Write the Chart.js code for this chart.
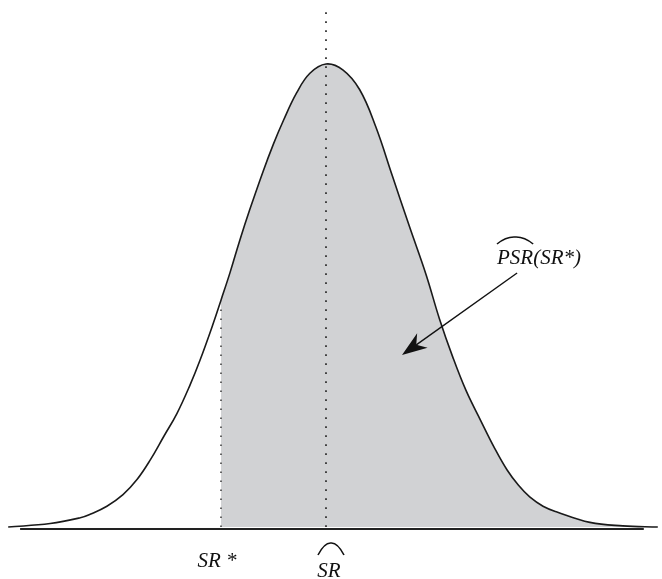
<!DOCTYPE html>
<html>
<head>
<meta charset="utf-8">
<script src="https://cdn.jsdelivr.net/npm/chart.js@4"></script>
<style>
  html, body { margin: 0; padding: 0; background: #fff; }
  #wrap { width: 662px; height: 579px; position: relative; }
</style>
</head>
<body>
<div id="wrap"><canvas id="psrChart"></canvas></div>
<script>
// density curve (x in sd-like units, SR-hat at 0)
const curveX = [-4.54, -3.94, -3.51, -3.37, -3.13, -2.90, -2.70, -2.51, -2.32, -2.13,
                -1.94, -1.80, -1.61, -1.50, -1.37, -1.23, -1.09, -0.90, -0.75, -0.61,
                -0.42, -0.23, 0.00, 0.24, 0.48, 0.71, 0.95, 1.19, 1.43, 1.62,
                1.81, 2.00, 2.21, 2.41, 2.59, 2.75, 2.91, 3.10, 3.30, 3.77,
                4.24, 4.74];
const curveY = [0.000, 0.003, 0.008, 0.011, 0.018, 0.028, 0.041, 0.058, 0.078, 0.098,
                0.123, 0.144, 0.176, 0.196, 0.220, 0.248, 0.274, 0.307, 0.331, 0.351,
                0.375, 0.392, 0.400, 0.395, 0.378, 0.346, 0.303, 0.260, 0.218, 0.180,
                0.147, 0.118, 0.092, 0.068, 0.049, 0.036, 0.026, 0.018, 0.013, 0.004,
                0.001, 0.000];

const srHat = 0.00;
const srStar = -1.50;
const labels = ["SR *", "SR", "PSR", "(SR*)"];

const pts = curveX.map((x, i) => ({ x: x, y: curveY[i] }));
const shaded = pts.filter(p => p.x >= srStar);
const starTop = 0.189;
const hatTop = 0.448;

const serif = "'Liberation Serif', 'Times New Roman', Tinos, 'DejaVu Serif', serif";

const annotate = {
    id: "annotate",
    afterDatasetsDraw(chart) {
        const c = chart.ctx;
        const xs = chart.scales.x;
        const ys = chart.scales.y;

        c.save();
        c.fillStyle = "#111";
        c.strokeStyle = "#111";
        c.font = "italic 21px " + serif;
        c.textBaseline = "alphabetic";

        // SR* label under the axis
        const px0 = xs.getPixelForValue(srStar);
        c.textAlign = "center";
        c.fillText(labels[0], px0 - 4, 567);

        // SR-hat label
        const px1 = xs.getPixelForValue(srHat);
        c.fillText(labels[1], px1 + 3, 577);
        drawHat(c, px1 - 8, px1 + 18, 555, 543);

        // PSR-hat(SR*) label
        c.textAlign = "left";
        c.fillText(labels[2], 497, 264);
        const w = c.measureText(labels[2]).width;
        c.fillText(labels[3], 497 + w, 264);
        drawHat(c, 497, 497 + w, 244, 237);

        // arrow
        const ax0 = xs.getPixelForValue(2.73), ay0 = ys.getPixelForValue(0.2195);
        const ax1 = xs.getPixelForValue(1.086), ay1 = ys.getPixelForValue(0.1486);
        const ang = Math.atan2(ay1 - ay0, ax1 - ax0);
        const headLen = 25, headW = 9;
        c.lineWidth = 1.4;
        c.beginPath();
        c.moveTo(ax0, ay0);
        c.lineTo(ax1 - Math.cos(ang) * headLen * 0.7, ay1 - Math.sin(ang) * headLen * 0.7);
        c.stroke();
        const bx = ax1 - Math.cos(ang) * headLen;
        const by = ay1 - Math.sin(ang) * headLen;
        const nx = -Math.sin(ang), ny = Math.cos(ang);
        const mx = ax1 - Math.cos(ang) * headLen * 0.7;
        const my = ay1 - Math.sin(ang) * headLen * 0.7;
        c.beginPath();
        c.moveTo(ax1, ay1);
        c.lineTo(bx + nx * headW, by + ny * headW);
        c.lineTo(mx, my);
        c.lineTo(bx - nx * headW, by - ny * headW);
        c.closePath();
        c.fill();
        c.restore();
    }
};

function drawHat(c, x0, x1, yb, yt) {
    const xm = (x0 + x1) / 2;
    c.lineWidth = 1.6;
    c.lineJoin = "miter";
    c.beginPath();
    c.moveTo(x0, yb);
    c.quadraticCurveTo((x0 + xm) / 2, yt - 0.5, xm, yt);
    c.quadraticCurveTo((x1 + xm) / 2, yt - 0.5, x1, yb);
    c.stroke();
}

new Chart(document.getElementById("psrChart"), {
    type: "line",
    data: {
        datasets: [
            {
                // density curve
                data: pts,
                borderColor: "#1a1a1a",
                borderWidth: 1.6,
                pointRadius: 0,
                tension: 0.4,
                fill: false,
                order: 1
            },
            {
                // SR-hat dotted line
                data: [{ x: srHat, y: 0 }, { x: srHat, y: hatTop }],
                borderColor: "#333",
                borderWidth: 1.8,
                borderDash: [1.8, 7.2],
                pointRadius: 0,
                tension: 0,
                fill: false,
                order: 2
            },
            {
                // SR* dotted line
                data: [{ x: srStar, y: 0 }, { x: srStar, y: starTop }],
                borderColor: "#444",
                borderWidth: 1.6,
                borderDash: [1.6, 7.4],
                pointRadius: 0,
                tension: 0,
                fill: false,
                order: 3
            },
            {
                // axis line
                data: [{ x: -4.37, y: -0.0017 }, { x: 4.54, y: -0.0017 }],
                borderColor: "#222",
                borderWidth: 2,
                pointRadius: 0,
                tension: 0,
                fill: false,
                order: 0
            },
            {
                // shaded area right of SR*
                data: shaded,
                borderWidth: 0,
                borderColor: "rgba(0,0,0,0)",
                backgroundColor: "#d1d2d4",
                pointRadius: 0,
                tension: 0.4,
                fill: "origin",
                order: 5
            }
        ]
    },
    options: {
        responsive: true,
        maintainAspectRatio: false,
        animation: false,
        layout: { padding: 0 },
        plugins: {
            legend: { display: false },
            tooltip: { enabled: false }
        },
        scales: {
            x: { type: "linear", display: false, min: -4.657, max: 4.8 },
            y: { type: "linear", display: false, min: -0.0449, max: 0.4553 }
        }
    },
    plugins: [annotate]
});
</script>
</body>
</html>
